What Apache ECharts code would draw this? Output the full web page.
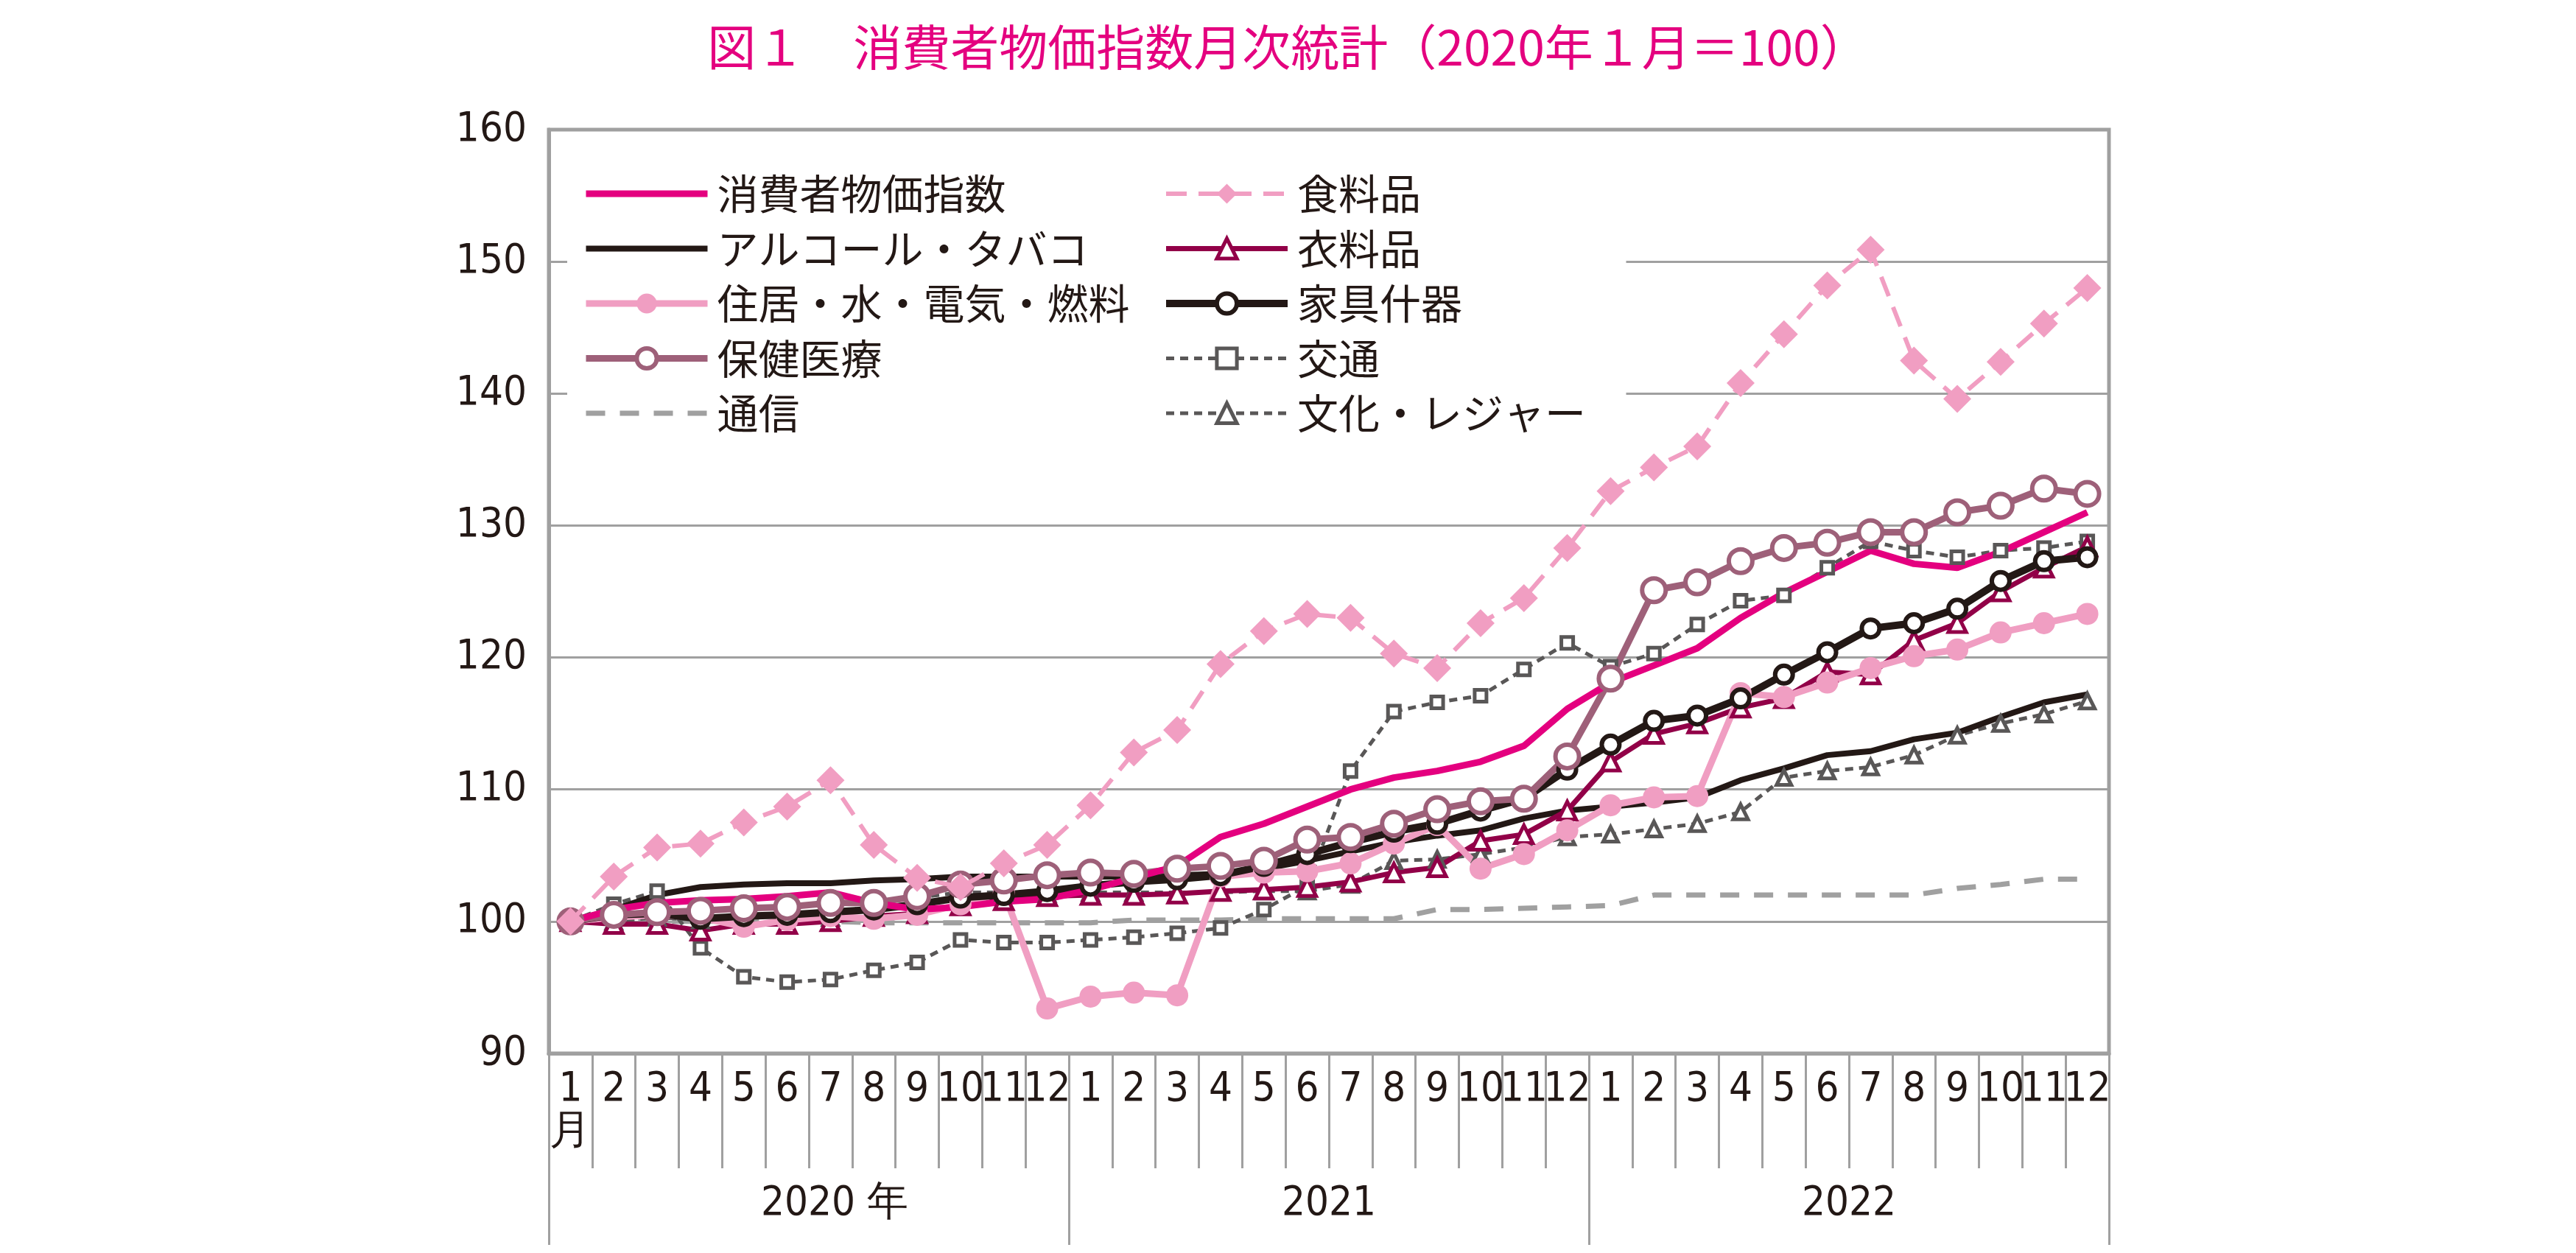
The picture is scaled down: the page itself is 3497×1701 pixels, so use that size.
<!DOCTYPE html>
<html><head><meta charset="utf-8">
<script src="https://cdn.jsdelivr.net/npm/echarts@6/dist/echarts.min.js"></script>
<style>html,body{margin:0;padding:0;background:#fff}#c{width:3497px;height:1701px}</style>
</head><body><div id="c"></div>
<script>
const years = ['2020 年', '2021', '2022'];
const monthLabels = ['1','2','3','4','5','6','7','8','9','10','11','12'];
const yTicks = [90, 100, 110, 120, 130, 140, 150, 160];

const cpi = [100, 100.9, 101.4, 101.6, 101.7, 101.9, 102.2, 101.4, 100.9, 101.1, 101.5, 101.7,
  102.4, 103.3, 104.2, 106.4, 107.4, 108.7, 110.0, 110.9, 111.4, 112.1, 113.3, 116.1,
  118.1, 119.4, 120.7, 123.0, 124.9, 126.5, 128.1, 127.1, 126.8, 128.0, 129.5, 131.0];
const food = [100, 103.4, 105.6, 105.9, 107.5, 108.7, 110.7, 105.8, 103.3, 102.6, 104.4, 105.8,
  108.8, 112.8, 114.5, 119.5, 122.0, 123.3, 123.0, 120.3, 119.2, 122.6, 124.5, 128.3,
  132.6, 134.4, 136.0, 140.8, 144.5, 148.2, 150.9, 142.5, 139.6, 142.4, 145.3, 148.0];
const alcohol = [100, 100.9, 102.0, 102.6, 102.8, 102.9, 102.9, 103.1, 103.2, 103.4, 103.4, 103.4,
  103.4, 103.4, 103.5, 103.6, 104.0, 104.6, 105.3, 106.0, 106.5, 106.9, 107.8, 108.4,
  108.7, 109.0, 109.4, 110.7, 111.6, 112.6, 112.9, 113.8, 114.3, 115.5, 116.6, 117.2];
const clothing = [100, 99.8, 99.8, 99.3, 99.8, 99.8, 100.0, 100.4, 100.6, 101.2, 101.6, 101.9,
  102.0, 102.0, 102.1, 102.3, 102.4, 102.6, 103.0, 103.7, 104.1, 106.1, 106.6, 108.4,
  112.1, 114.2, 115.0, 116.2, 116.9, 118.9, 118.7, 121.3, 122.6, 125.0, 126.8, 128.4];
const housing = [100, 100.3, 100.5, 100.3, 99.6, 100.1, 100.4, 100.2, 100.5, 101.3, 102.2, 93.4,
  94.3, 94.6, 94.4, 103.4, 103.7, 103.8, 104.4, 105.9, 107.3, 104.0, 105.1, 106.9,
  108.8, 109.4, 109.5, 117.3, 117.0, 118.1, 119.2, 120.1, 120.6, 121.9, 122.6, 123.3];
const furniture = [100, 100.5, 100.6, 100.2, 100.4, 100.5, 100.7, 100.9, 101.3, 101.8, 102.0, 102.3,
  102.7, 103.0, 103.2, 103.5, 104.2, 105.1, 106.0, 106.8, 107.4, 108.4, 109.3, 111.5,
  113.4, 115.2, 115.6, 116.9, 118.7, 120.4, 122.2, 122.6, 123.7, 125.8, 127.3, 127.6];
const health = [100, 100.5, 100.7, 100.8, 101.0, 101.1, 101.4, 101.4, 101.9, 102.8, 103.1, 103.5,
  103.7, 103.6, 104.0, 104.2, 104.6, 106.2, 106.4, 107.4, 108.5, 109.1, 109.3, 112.5,
  118.4, 125.1, 125.7, 127.3, 128.3, 128.7, 129.5, 129.5, 131.0, 131.5, 132.8, 132.4];
const transport = [100, 101.3, 102.3, 98.0, 95.8, 95.4, 95.6, 96.3, 96.9, 98.6, 98.4, 98.4,
  98.6, 98.8, 99.1, 99.5, 100.9, 102.7, 111.4, 115.9, 116.6, 117.1, 119.1, 121.1,
  119.3, 120.3, 122.5, 124.3, 124.7, 126.8, 128.8, 128.1, 127.6, 128.1, 128.3, 128.8];
const communication = [100, 100, 100, 100, 100, 100, 100, 99.9, 99.9, 99.9, 99.9, 99.9,
  99.9, 100.1, 100.1, 100.1, 100.2, 100.2, 100.2, 100.2, 100.9, 100.9, 101.0, 101.1,
  101.2, 102.0, 102.0, 102.0, 102.0, 102.0, 102.0, 102.0, 102.5, 102.8, 103.2, 103.2];
const culture = [100, 100.0, 100.3, 100.1, 100.3, 100.4, 100.3, 101.4, 101.8, 102.2, 102.2, 102.1,
  102.2, 102.2, 102.2, 102.2, 102.3, 102.3, 102.8, 104.6, 104.7, 105.1, 105.6, 106.4,
  106.6, 107.0, 107.4, 108.3, 110.9, 111.4, 111.7, 112.6, 114.1, 115.0, 115.7, 116.7];

const names = {
  cpi: '消費者物価指数', food: '食料品', alcohol: 'アルコール・タバコ', clothing: '衣料品',
  housing: '住居・水・電気・燃料', furniture: '家具什器', health: '保健医療', transport: '交通',
  communication: '通信', culture: '文化・レジャー'
};

const categories = [];
years.forEach((y, yi) => monthLabels.forEach(m => categories.push((2020 + yi) + '/' + m)));

const NARROW = "'Liberation Sans Narrow', 'DejaVu Sans Condensed', 'Arial Narrow', sans-serif";
const JP = "'Noto Sans CJK JP', sans-serif";
const GRAY = '#a0a0a0';
const INK = '#231815';

function line(name, data, color, width, dash, symbol, symbolSize, itemStyle, z) {
  return {
    name, type: 'line', data, z: z || 2,
    color,
    symbol: symbol || 'none', symbolSize: symbolSize || 0,
    showSymbol: !!symbol,
    lineStyle: { color, width, type: dash || 'solid' },
    itemStyle: itemStyle || { color },
    emphasis: { disabled: true },
    animation: false
  };
}

const series = [
  line(names.communication, communication, '#a0a0a0', 7, [26, 20]),
  line(names.transport, transport, '#595757', 5, [11, 8], 'rect', 16, { color: '#fff', borderColor: '#595757', borderWidth: 5 }),
  line(names.culture, culture, '#595757', 5, [11, 8], 'triangle', 20, { color: '#fff', borderColor: '#595757', borderWidth: 5 }),
  line(names.alcohol, alcohol, INK, 8),
  line(names.clothing, clothing, '#920048', 7, 'solid', 'triangle', 24, { color: '#fff', borderColor: '#920048', borderWidth: 5 }),
  line(names.housing, housing, '#f09ec2', 9, 'solid', 'circle', 30, { color: '#f09ec2' }),
  line(names.furniture, furniture, INK, 10, 'solid', 'circle', 24, { color: '#fff', borderColor: INK, borderWidth: 6 }),
  line(names.health, health, '#9e6079', 9, 'solid', 'circle', 32, { color: '#fff', borderColor: '#9e6079', borderWidth: 6 }),
  line(names.cpi, cpi, '#e4007f', 9),
  line(names.food, food, '#f19ec2', 6, [28, 16], 'diamond', 38, { color: '#f19ec2' }, 3)
];

const noSym = { itemStyle: { opacity: 0 } };
const legendCommon = {
  orient: 'vertical', itemWidth: 165, itemHeight: 34, itemGap: 18.5,
  textStyle: { fontFamily: JP, fontSize: 56, lineHeight: 56, color: INK, padding: [0, 0, 0, 8] },
  lineStyle: { width: 'inherit' },
  itemStyle: { borderWidth: 'inherit' },
  selectedMode: false, z: 5
};

const chart = echarts.init(document.getElementById('c'), null, { renderer: 'canvas' });
chart.setOption({
  animation: false,
  backgroundColor: '#fff',
  title: {
    text: '図１　消費者物価指数月次統計（2020年１月＝100）',
    left: 'center', top: 26,
    textStyle: { fontFamily: JP, fontSize: 66, fontWeight: 'normal', color: '#e4007f' }
  },
  grid: {
    left: 745, right: 634, top: 176, bottom: 271,
    show: true, borderColor: GRAY, borderWidth: 5, backgroundColor: 'transparent'
  },
  legend: [
    Object.assign({}, legendCommon, {
      left: 770, top: 190, padding: [45, 674, 40, 21], backgroundColor: '#fff',
      data: [
        Object.assign({ name: names.cpi }, noSym),
        Object.assign({ name: names.alcohol }, noSym),
        { name: names.housing },
        { name: names.health },
        Object.assign({ name: names.communication }, noSym)
      ]
    }),
    Object.assign({}, legendCommon, {
      left: 1578, top: 235, padding: 0, z: 6,
      data: [names.food, names.clothing, names.furniture, names.transport, names.culture]
    })
  ],
  xAxis: [
    {
      type: 'category', data: categories, boundaryGap: true, position: 'bottom',
      axisLine: { show: true, lineStyle: { color: GRAY, width: 5 } },
      axisTick: { show: true, interval: 0, length: 156, lineStyle: { color: GRAY, width: 3 } },
      axisLabel: {
        interval: 0, margin: 20, fontFamily: NARROW, fontSize: 56, lineHeight: 58, color: INK,
        formatter: (v, i) => i === 0 ? '1\n月' : monthLabels[i % 12]
      },
      splitLine: { show: false }
    },
    {
      type: 'category', data: years, boundaryGap: true, position: 'bottom',
      axisLine: { show: false },
      axisTick: { show: true, interval: 0, length: 260, lineStyle: { color: GRAY, width: 3 } },
      axisLabel: {
        interval: 0, margin: 176, fontFamily: NARROW, fontSize: 56, color: INK,
        formatter: v => v.indexOf('年') >= 0 ? '{p|}' + v : v,
        rich: { p: { width: 70, fontFamily: NARROW, fontSize: 56 } }
      },
      splitLine: { show: false }
    }
  ],
  yAxis: {
    type: 'value', min: yTicks[0], max: yTicks[yTicks.length - 1], interval: 10,
    axisLine: { show: true, lineStyle: { color: GRAY, width: 5 } },
    axisTick: { show: false },
    axisLabel: { margin: 30, fontFamily: NARROW, fontSize: 56, color: INK },
    splitLine: { show: true, lineStyle: { color: GRAY, width: 3 } }
  },
  series
});
</script></body></html>
